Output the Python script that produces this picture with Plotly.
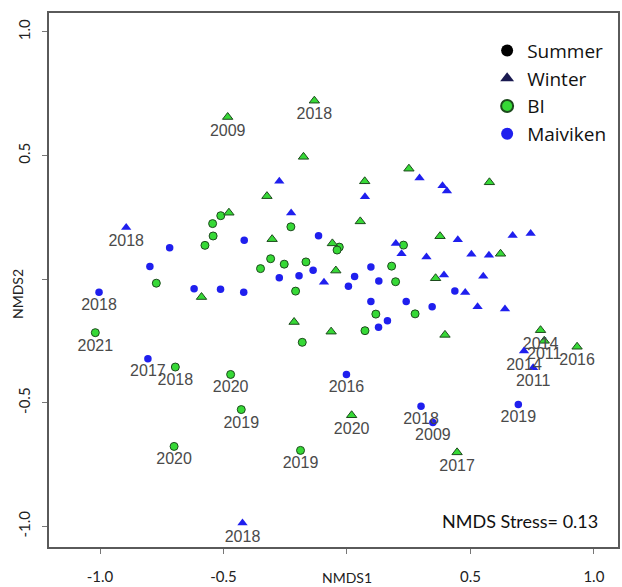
import plotly.graph_objects as go

# ---------------- data ----------------
bi_summer_x = [-0.511, -0.544, -0.542, -0.575, -0.227, -0.772, -0.350, -0.309, -0.254, -0.166,
               -0.208, -0.181, -0.031, -0.040, 0.229, 0.181, 0.197, 0.117, 0.073, 0.276,
               -1.019, -0.695, -0.471, -0.428, -0.700, -0.188]
bi_summer_y = [0.257, 0.225, 0.175, 0.137, 0.212, -0.016, 0.043, 0.083, 0.061, 0.070,
               -0.048, -0.255, 0.130, 0.118, 0.138, 0.053, -0.010, -0.141, -0.208, -0.140,
               -0.216, -0.355, -0.385, -0.527, -0.676, -0.692]
bi_summer_lab = [""] * 20 + ["2021", "2018", "2020", "2019", "2020", "2019"]

bi_winter_x = [-0.483, -0.132, -0.176, -0.324, -0.478, -0.303, 0.054, 0.072, -0.059, -0.045,
               0.251, 0.577, 0.377, 0.622, 0.359, -0.589, -0.214, -0.064, 0.397,
               0.019, 0.446, 0.784, 0.799, 0.932]
bi_winter_y = [0.656, 0.722, 0.495, 0.336, 0.269, 0.162, 0.234, 0.396, 0.145, 0.035,
               0.447, 0.392, 0.174, 0.103, 0.004, -0.072, -0.173, -0.212, -0.225,
               -0.550, -0.700, -0.206, -0.249, -0.273]
bi_winter_lab = ["2009", "2018"] + [""] * 17 + ["2020", "2017", "2014", "2011", "2016"]

mai_summer_x = [-0.416, -0.718, -0.798, -0.619, -0.512, -0.418, -0.274, -0.194, -0.137, -0.115,
                0.006, 0.031, 0.097, 0.129, 0.097, 0.128, 0.164, 0.240, 0.345, 0.437,
                -1.004, -0.806, -0.002, 0.300, 0.348, 0.694]
mai_summer_y = [0.158, 0.127, 0.052, -0.038, -0.040, -0.053, 0.006, 0.014, 0.036, 0.176,
                -0.028, 0.011, 0.050, -0.007, -0.090, -0.194, -0.168, -0.090, -0.111, -0.048,
                -0.053, -0.321, -0.385, -0.514, -0.579, -0.506]
mai_summer_lab = [""] * 20 + ["2018", "2017", "2016", "2018", "2009", "2019"]

mai_winter_x = [-0.894, -0.274, -0.226, 0.073, 0.294, 0.387, 0.405, 0.198, 0.221, 0.322,
                0.449, 0.671, 0.744, 0.504, 0.575, -0.093, 0.393, 0.552, 0.479, 0.529,
                0.640, 0.717, 0.754, -0.423]
mai_winter_y = [0.209, 0.396, 0.268, 0.334, 0.409, 0.378, 0.357, 0.145, 0.103, 0.090,
                0.160, 0.177, 0.185, 0.101, 0.097, -0.012, 0.017, 0.012, -0.054, -0.111,
                -0.120, -0.290, -0.358, -0.986]
mai_winter_lab = ["2018"] + [""] * 20 + ["2014", "2011", "2018"]

tick_vals = [-1.0, -0.5, 0.0, 0.5, 1.0]
tick_text = ["-1.0", "-0.5", "", "0.5", "1.0"]
legend_names = ["Summer", "Winter", "BI", "Maiviken"]
stress_text = "NMDS Stress= 0.13"

# ---------------- styling ----------------
GREEN = "#36d936"
GREEN_EDGE = "#1d4a1d"
BLUE = "#1f1fee"
LABEL_FONT = dict(family="Liberation Sans, Arial", size=16, color="#4a4a4a")
UI_FONT = "Lato, Open Sans, sans-serif"
LEG_FONT = "Open Sans, Lato, sans-serif"

fig = go.Figure()

def add_group(x, y, lab, color, symbol, size, edge):
    fig.add_trace(go.Scatter(
        x=x, y=y, mode="markers+text", text=lab, textposition="bottom center",
        textfont=LABEL_FONT, showlegend=False, hoverinfo="skip",
        marker=dict(color=color, symbol=symbol, size=size,
                    line=dict(color=edge if edge else color, width=1 if edge else 0)),
    ))

add_group(bi_summer_x, bi_summer_y, bi_summer_lab, GREEN, "circle", 8, GREEN_EDGE)
add_group(bi_winter_x, bi_winter_y, bi_winter_lab, GREEN, "triangle-up", 9, GREEN_EDGE)
add_group(mai_summer_x, mai_summer_y, mai_summer_lab, BLUE, "circle", 7.5, None)
add_group(mai_winter_x, mai_winter_y, mai_winter_lab, BLUE, "triangle-up", 9, None)

# legend entries
legend_styles = [
    dict(color="black", symbol="circle", size=8, line=dict(width=0)),
    dict(color="#1a1a50", symbol="triangle-up", size=9, line=dict(width=0)),
    dict(color=GREEN, symbol="circle", size=9, line=dict(color=GREEN_EDGE, width=1)),
    dict(color=BLUE, symbol="circle", size=9, line=dict(width=0)),
]
for name, st in zip(legend_names, legend_styles):
    fig.add_trace(go.Scatter(x=[None], y=[None], mode="markers", name=name, marker=st))

W, H = 622, 587
L, R, T, B = 49, 2, 13, 38
axis_common = dict(
    showline=True, mirror=True, linecolor="#5a5a5a", linewidth=2,
    showgrid=False, zeroline=False, ticks="outside", ticklen=5, tickwidth=1,
    tickcolor="#777777", tickvals=tick_vals, ticktext=tick_text,
    tickfont=dict(family=UI_FONT, size=15, color="#222222"),
)

fig.update_layout(
    width=W, height=H, margin=dict(l=L, r=R, t=T, b=B),
    plot_bgcolor="white", paper_bgcolor="white",
    xaxis=dict(range=[-1.2066, 1.0977], ticklabelstandoff=10, **axis_common),
    yaxis=dict(range=[-1.0827, 1.0766], tickangle=-90, ticklabelstandoff=6, **axis_common),
    legend=dict(x=0.77, y=0.965, xanchor="left", yanchor="top",
                font=dict(family=LEG_FONT, size=19, color="#111111"),
                bgcolor="rgba(0,0,0,0)", tracegroupgap=0, itemsizing="constant"),
    annotations=[
        dict(text="NMDS1", x=0, xref="x", y=-0.057, yref="paper", showarrow=False,
             xanchor="center", yanchor="middle",
             font=dict(family=UI_FONT, size=14, color="#222222")),
        dict(text="NMDS2", x=-0.0543, xref="paper", y=0.474, yref="paper", showarrow=False,
             xanchor="center", yanchor="middle",
             textangle=-90, font=dict(family=UI_FONT, size=14, color="#222222")),
        dict(text=stress_text, x=0.968, xref="paper", xanchor="right", y=0.0486,
             yref="paper", yanchor="middle", showarrow=False,
             font=dict(family=UI_FONT, size=18, color="#111111")),
    ],
)

fig.write_html("out.html")
